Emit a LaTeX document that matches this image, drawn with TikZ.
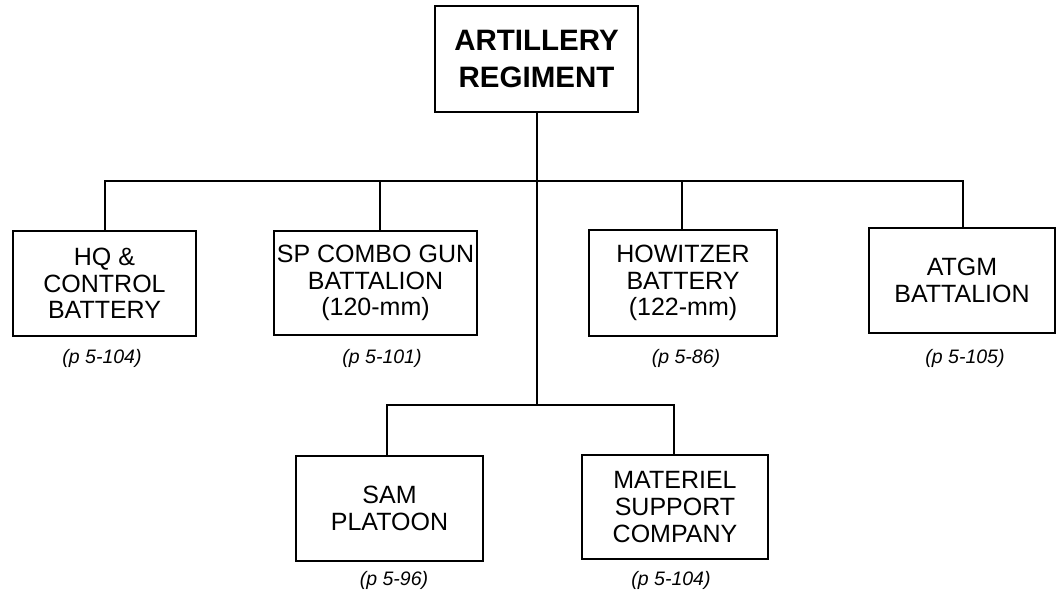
\documentclass[tikz,border=0pt]{standalone}
\usepackage{fontspec}
\setmainfont{Liberation Sans}
\begin{document}
\begin{tikzpicture}[x=1pt,y=-1pt,
  unitbox/.style={draw,line width=2.6pt,inner sep=0pt,align=center,
    font=\fontsize{25}{26.7}\selectfont},
  topbox/.style={draw,line width=2.6pt,inner sep=0pt,align=center,
    font=\fontsize{29.5}{36.7}\selectfont\bfseries,minimum width=203pt,minimum height=106pt},
  pagelabel/.style={inner sep=0pt,font=\fontsize{19.5}{21}\selectfont\itshape},
  conn/.style={line width=2.4pt}]
\useasboundingbox (0,0) rectangle (1061,597);
\node[topbox] (top) at (536.5,59) {ARTILLERY\\REGIMENT};
\node[unitbox,minimum width=183pt,minimum height=105pt] (hq) at (104.5,283.5) {HQ \&\\CONTROL\\BATTERY};
\node[unitbox,minimum width=203pt,minimum height=104pt] (sp) at (375.5,283) {SP COMBO GUN\\BATTALION\\(120-mm)};
\node[unitbox,minimum width=188pt,minimum height=106pt] (how) at (683,283) {HOWITZER\\BATTERY\\(122-mm)};
\node[unitbox,minimum width=186pt,minimum height=105pt] (atgm) at (962,280.5) {ATGM\\BATTALION};
\node[unitbox,minimum width=187pt,minimum height=105pt] (sam) at (389.5,508.5) {SAM\\PLATOON};
\node[unitbox,minimum width=186pt,minimum height=104pt] (mat) at (675,507) {MATERIEL\\SUPPORT\\COMPANY};
\node[pagelabel] (lhq) at (102,358) {(p 5-104)};
\node[pagelabel] (lsp) at (382,358) {(p 5-101)};
\node[pagelabel] (lhow) at (686,358) {(p 5-86)};
\node[pagelabel] (latgm) at (965,358) {(p 5-105)};
\node[pagelabel] (lsam) at (394,580) {(p 5-96)};
\node[pagelabel] (lmat) at (671,580) {(p 5-104)};
\coordinate (bar1) at (537,181);
\coordinate (bar2) at (537,405);
\draw[conn] (top.south -| bar1) -- (bar2);
\draw[conn] ([xshift=0.5pt]hq.north) |- (bar1) -| ([xshift=1pt]atgm.north);
\draw[conn] ([xshift=4.5pt]sp.north) -- ([xshift=4.5pt]sp.north |- bar1);
\draw[conn] ([xshift=-1pt]how.north) -- ([xshift=-1pt]how.north |- bar1);
\draw[conn] ([xshift=-2.5pt]sam.north) |- (bar2) -| ([xshift=-1pt]mat.north);
\end{tikzpicture}
\end{document}
